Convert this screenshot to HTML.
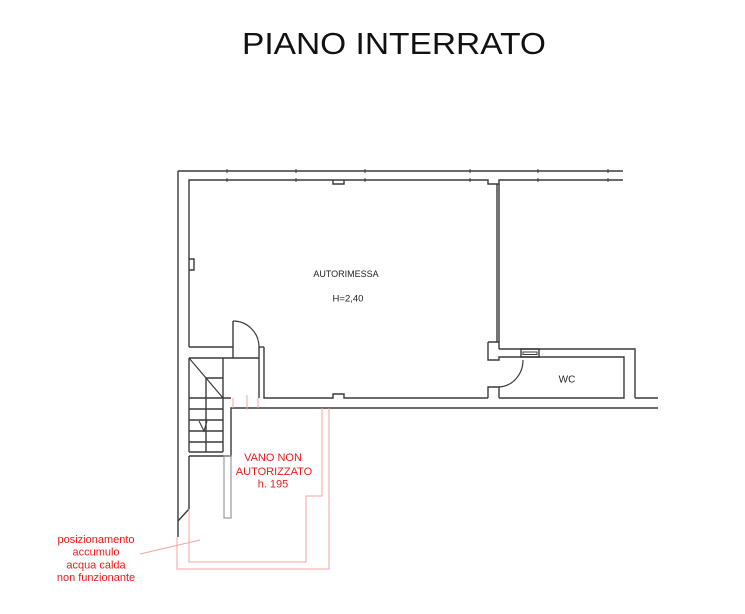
<!DOCTYPE html>
<html><head><meta charset="utf-8"><style>
html,body{margin:0;padding:0;background:#fff;}
svg{display:block;}
</style></head><body>
<svg width="745" height="614" viewBox="0 0 745 614" xmlns="http://www.w3.org/2000/svg">
<rect width="745" height="614" fill="#fff"/>
<text x="242" y="54" font-family="Liberation Sans, Arial, sans-serif" font-size="31" fill="#111" textLength="304" lengthAdjust="spacingAndGlyphs">PIANO INTERRATO</text>

<g fill="none" stroke="#3a3a3a" stroke-width="1.4">
<!-- outer top -->
<line x1="178" y1="171" x2="623" y2="171"/>
<!-- outer left -->
<line x1="178" y1="171" x2="178" y2="537"/>
<!-- inner top with notch -->
<polyline points="189,347 189,180 488,180 488,184 499,184 499,180 623,180"/>
<!-- top notch -->
<polyline points="333,180 333,184 344,184 344,180"/>
<!-- left notch -->
<polyline points="189,259 194,259 194,270 189,270"/>
<!-- glass wall -->
<line x1="497" y1="184" x2="497" y2="342"/>
<line x1="499" y1="184" x2="499" y2="342"/>
<!-- upper pillar -->
<polyline points="488,398 488,387 499,387 499,398"/>
<polyline points="635,398 658,398"/>
<polyline points="499,349 635,349 635,398"/>
<polyline points="488,342 499,342 499,349"/>
<polyline points="488,342 488,360 499,360 499,357 624,357 624,398 499,398"/>
<!-- window -->
<rect x="521" y="349" width="18" height="8"/>
<rect x="523" y="352" width="14" height="2.5" stroke-width="1"/>
<!-- door arc WC -->
<path d="M523,360 A25,27 0 0 1 499,387" stroke-width="1.2"/>
<!-- autorimessa bottom inner -->
<polyline points="264,347 264,398 333,398 333,394 344,394 344,398 488,398"/>
<!-- outer bottom -->
<polyline points="189,456 231,456 231,408 658,408"/>
<!-- left door -->
<polyline points="189,347 233,347"/>
<line x1="233" y1="321" x2="233" y2="358"/>
<path d="M233,321 A26,26 0 0 1 259,347" stroke-width="1.2"/>
<polyline points="259,347 264,347"/>
<line x1="259" y1="347" x2="259" y2="398"/>
<!-- stair top -->
<line x1="189" y1="358" x2="259" y2="358"/>
<!-- stairs -->
<line x1="189" y1="358" x2="189" y2="452"/>
<line x1="223" y1="358" x2="223" y2="452"/>
<line x1="206" y1="378" x2="206" y2="452"/>
<line x1="206" y1="378" x2="223" y2="378"/>
<line x1="189" y1="358" x2="223" y2="398" stroke-width="1.2"/>
<line x1="189" y1="398" x2="231" y2="398"/>
<line x1="189" y1="409" x2="223" y2="409"/>
<line x1="189" y1="420" x2="223" y2="420"/>
<line x1="189" y1="431" x2="223" y2="431"/>
<line x1="189" y1="442" x2="223" y2="442"/>
<line x1="189" y1="452" x2="223" y2="452"/>
<polyline points="199,421 204,431 207,421" stroke-width="1.1"/>
<!-- lower left wall -->
<polyline points="189,456 189,509 178,521" />
</g>
<!-- ticks -->
<g stroke="#3a3a3a" stroke-width="1">
<line x1="227" y1="169" x2="227" y2="173"/><line x1="227" y1="178" x2="227" y2="182"/>
<line x1="296" y1="169" x2="296" y2="173"/><line x1="296" y1="178" x2="296" y2="182"/>
<line x1="365" y1="169" x2="365" y2="173"/><line x1="365" y1="178" x2="365" y2="182"/>
<line x1="470" y1="169" x2="470" y2="173"/><line x1="470" y1="178" x2="470" y2="182"/>
<line x1="538" y1="169" x2="538" y2="173"/><line x1="538" y1="178" x2="538" y2="182"/>
<line x1="608" y1="169" x2="608" y2="173"/><line x1="608" y1="178" x2="608" y2="182"/>
</g>
<!-- gray wall piece -->
<rect x="224" y="456" width="7" height="62" fill="none" stroke="#9a9a9a" stroke-width="1.2"/>

<!-- red lines -->
<g fill="none" stroke="#f4a3a3" stroke-width="1">
<line x1="233" y1="398" x2="233" y2="408"/>
<line x1="247" y1="395" x2="247" y2="410"/>
<line x1="258" y1="398" x2="258" y2="408"/>
<polyline points="189,509 189,562 306,562 306,496 322,496 322,408"/>
<polyline points="177,537 177,569 329,569 329,408"/>
<line x1="140" y1="554" x2="200" y2="540"/>
</g>

<g font-family="Liberation Sans, Arial, sans-serif" text-anchor="middle">
<text x="346" y="277" font-size="9" fill="#222">AUTORIMESSA</text>
<text x="348" y="301.5" font-size="9.5" fill="#222">H=2,40</text>
<text x="567" y="382.5" font-size="10" fill="#222">WC</text>
<g fill="#f01818" font-size="11">
<text x="273" y="461">VANO NON</text>
<text x="274" y="475">AUTORIZZATO</text>
<text x="273" y="487.5">h. 195</text>
<text x="96" y="543">posizionamento</text>
<text x="96" y="555.5">accumulo</text>
<text x="96" y="568.5">acqua calda</text>
<text x="96" y="581">non funzionante</text>
</g>
</g>
</svg>
</body></html>
